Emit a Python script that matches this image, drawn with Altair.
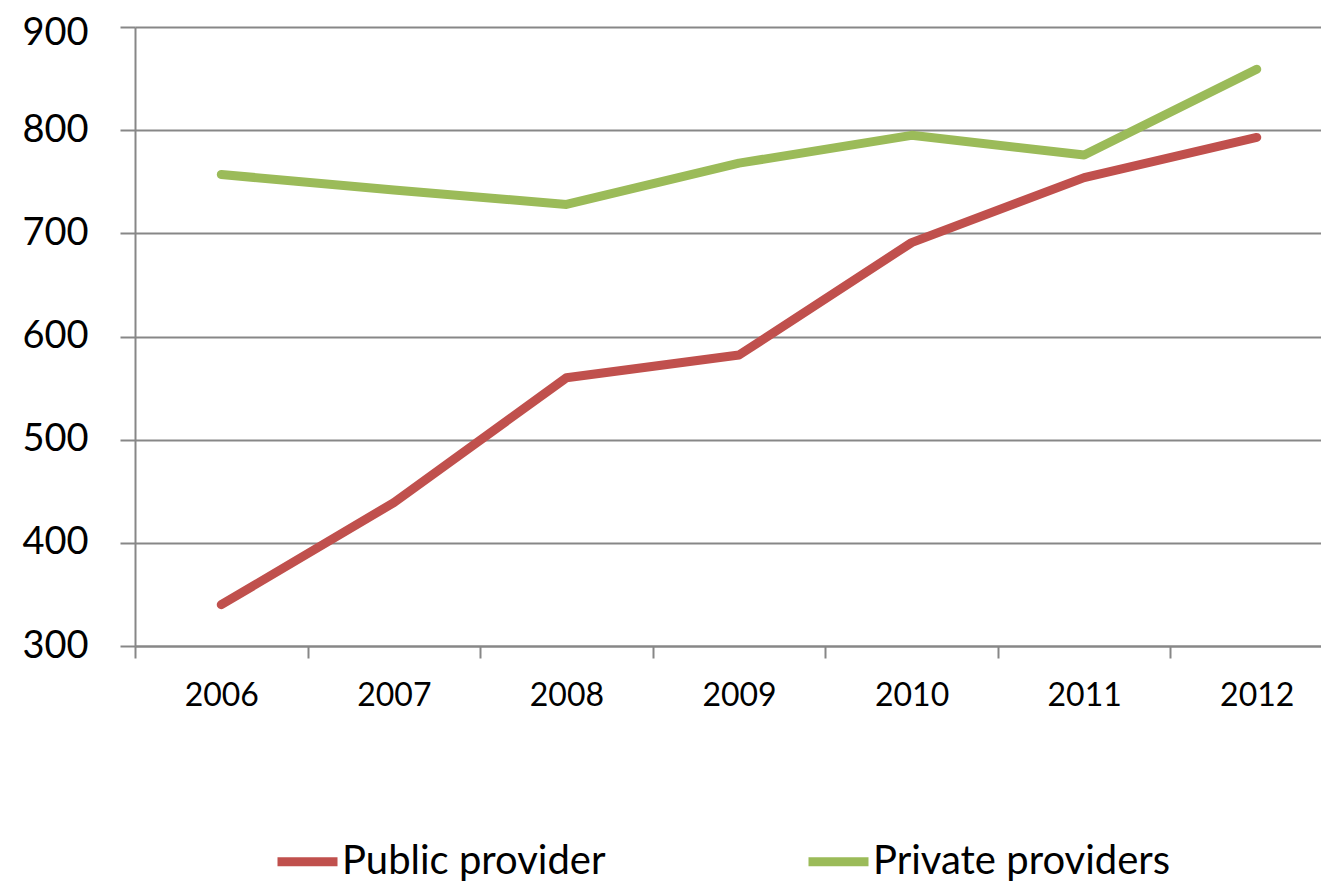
import altair as alt
import pandas as pd

years = ["2006", "2007", "2008", "2009", "2010", "2011", "2012"]
public_provider = [340, 439, 560, 582, 691, 754, 793]
private_providers = [757, 742, 728, 768, 795, 776, 859]
series_names = ["Public provider", "Private providers"]
series_colors = ["#C0504D", "#9BBB59"]
y_ticks = [300, 400, 500, 600, 700, 800, 900]

rows = []
for name, vals in zip(series_names, [public_provider, private_providers]):
    for yr, v in zip(years, vals):
        rows.append({"year": yr, "value": v, "series": name})
df = pd.DataFrame(rows)

FONT = "Lato"
GRID = "#878787"

chart = (
    alt.Chart(df)
    .mark_line(strokeWidth=9, strokeCap="round", strokeJoin="round")
    .encode(
        x=alt.X(
            "year:O",
            sort=years,
            bandPosition=0.5,
            scale=alt.Scale(type="band", range=[0, 1208], paddingInner=0, paddingOuter=0),
            axis=alt.Axis(
                title=None,
                tickBand="extent",
                labelAngle=0,
                labelFont=FONT,
                labelFontSize=32,
                labelColor="#000000",
                labelPadding=22,
                tickSize=12,
                tickColor=GRID,
                tickWidth=2,
                domainColor=GRID,
                domainWidth=2,
                grid=False,
            ),
        ),
        y=alt.Y(
            "value:Q",
            scale=alt.Scale(domain=[300, 900], nice=False, zero=False),
            axis=alt.Axis(
                title=None,
                values=y_ticks,
                labelFont=FONT,
                labelFontSize=38,
                labelColor="#000000",
                labelPadding=32,
                labelOffset={"condition": {"test": "datum.value >= 900", "value": 6}, "value": 0},
                tickSize=15,
                tickColor=GRID,
                tickWidth=2,
                domainColor=GRID,
                domainWidth=2,
                grid=True,
                gridColor=GRID,
                gridWidth=2,
            ),
        ),
        color=alt.Color(
            "series:N",
            sort=series_names,
            scale=alt.Scale(domain=series_names, range=series_colors),
            legend=alt.Legend(
                title=None,
                orient="none",
                direction="horizontal",
                legendX=138,
                legendY=800,
                symbolType="stroke",
                symbolSize=3600,
                symbolStrokeWidth=9,
                labelFont=FONT,
                labelFontSize=40,
                labelColor="#000000",
                labelOffset=0,
                columnPadding=184,
                padding=0,
                labelLimit=1000,
            ),
        ),
    )
    .properties(
        width=1186,
        height=619,
        autosize=alt.AutoSizeParams(type="none"),
        padding={"left": 127, "top": 19, "right": 0, "bottom": 238},
    )
    .configure_view(stroke=None)
)

chart.save("out.html", embed_options={"renderer": "svg", "actions": False})
